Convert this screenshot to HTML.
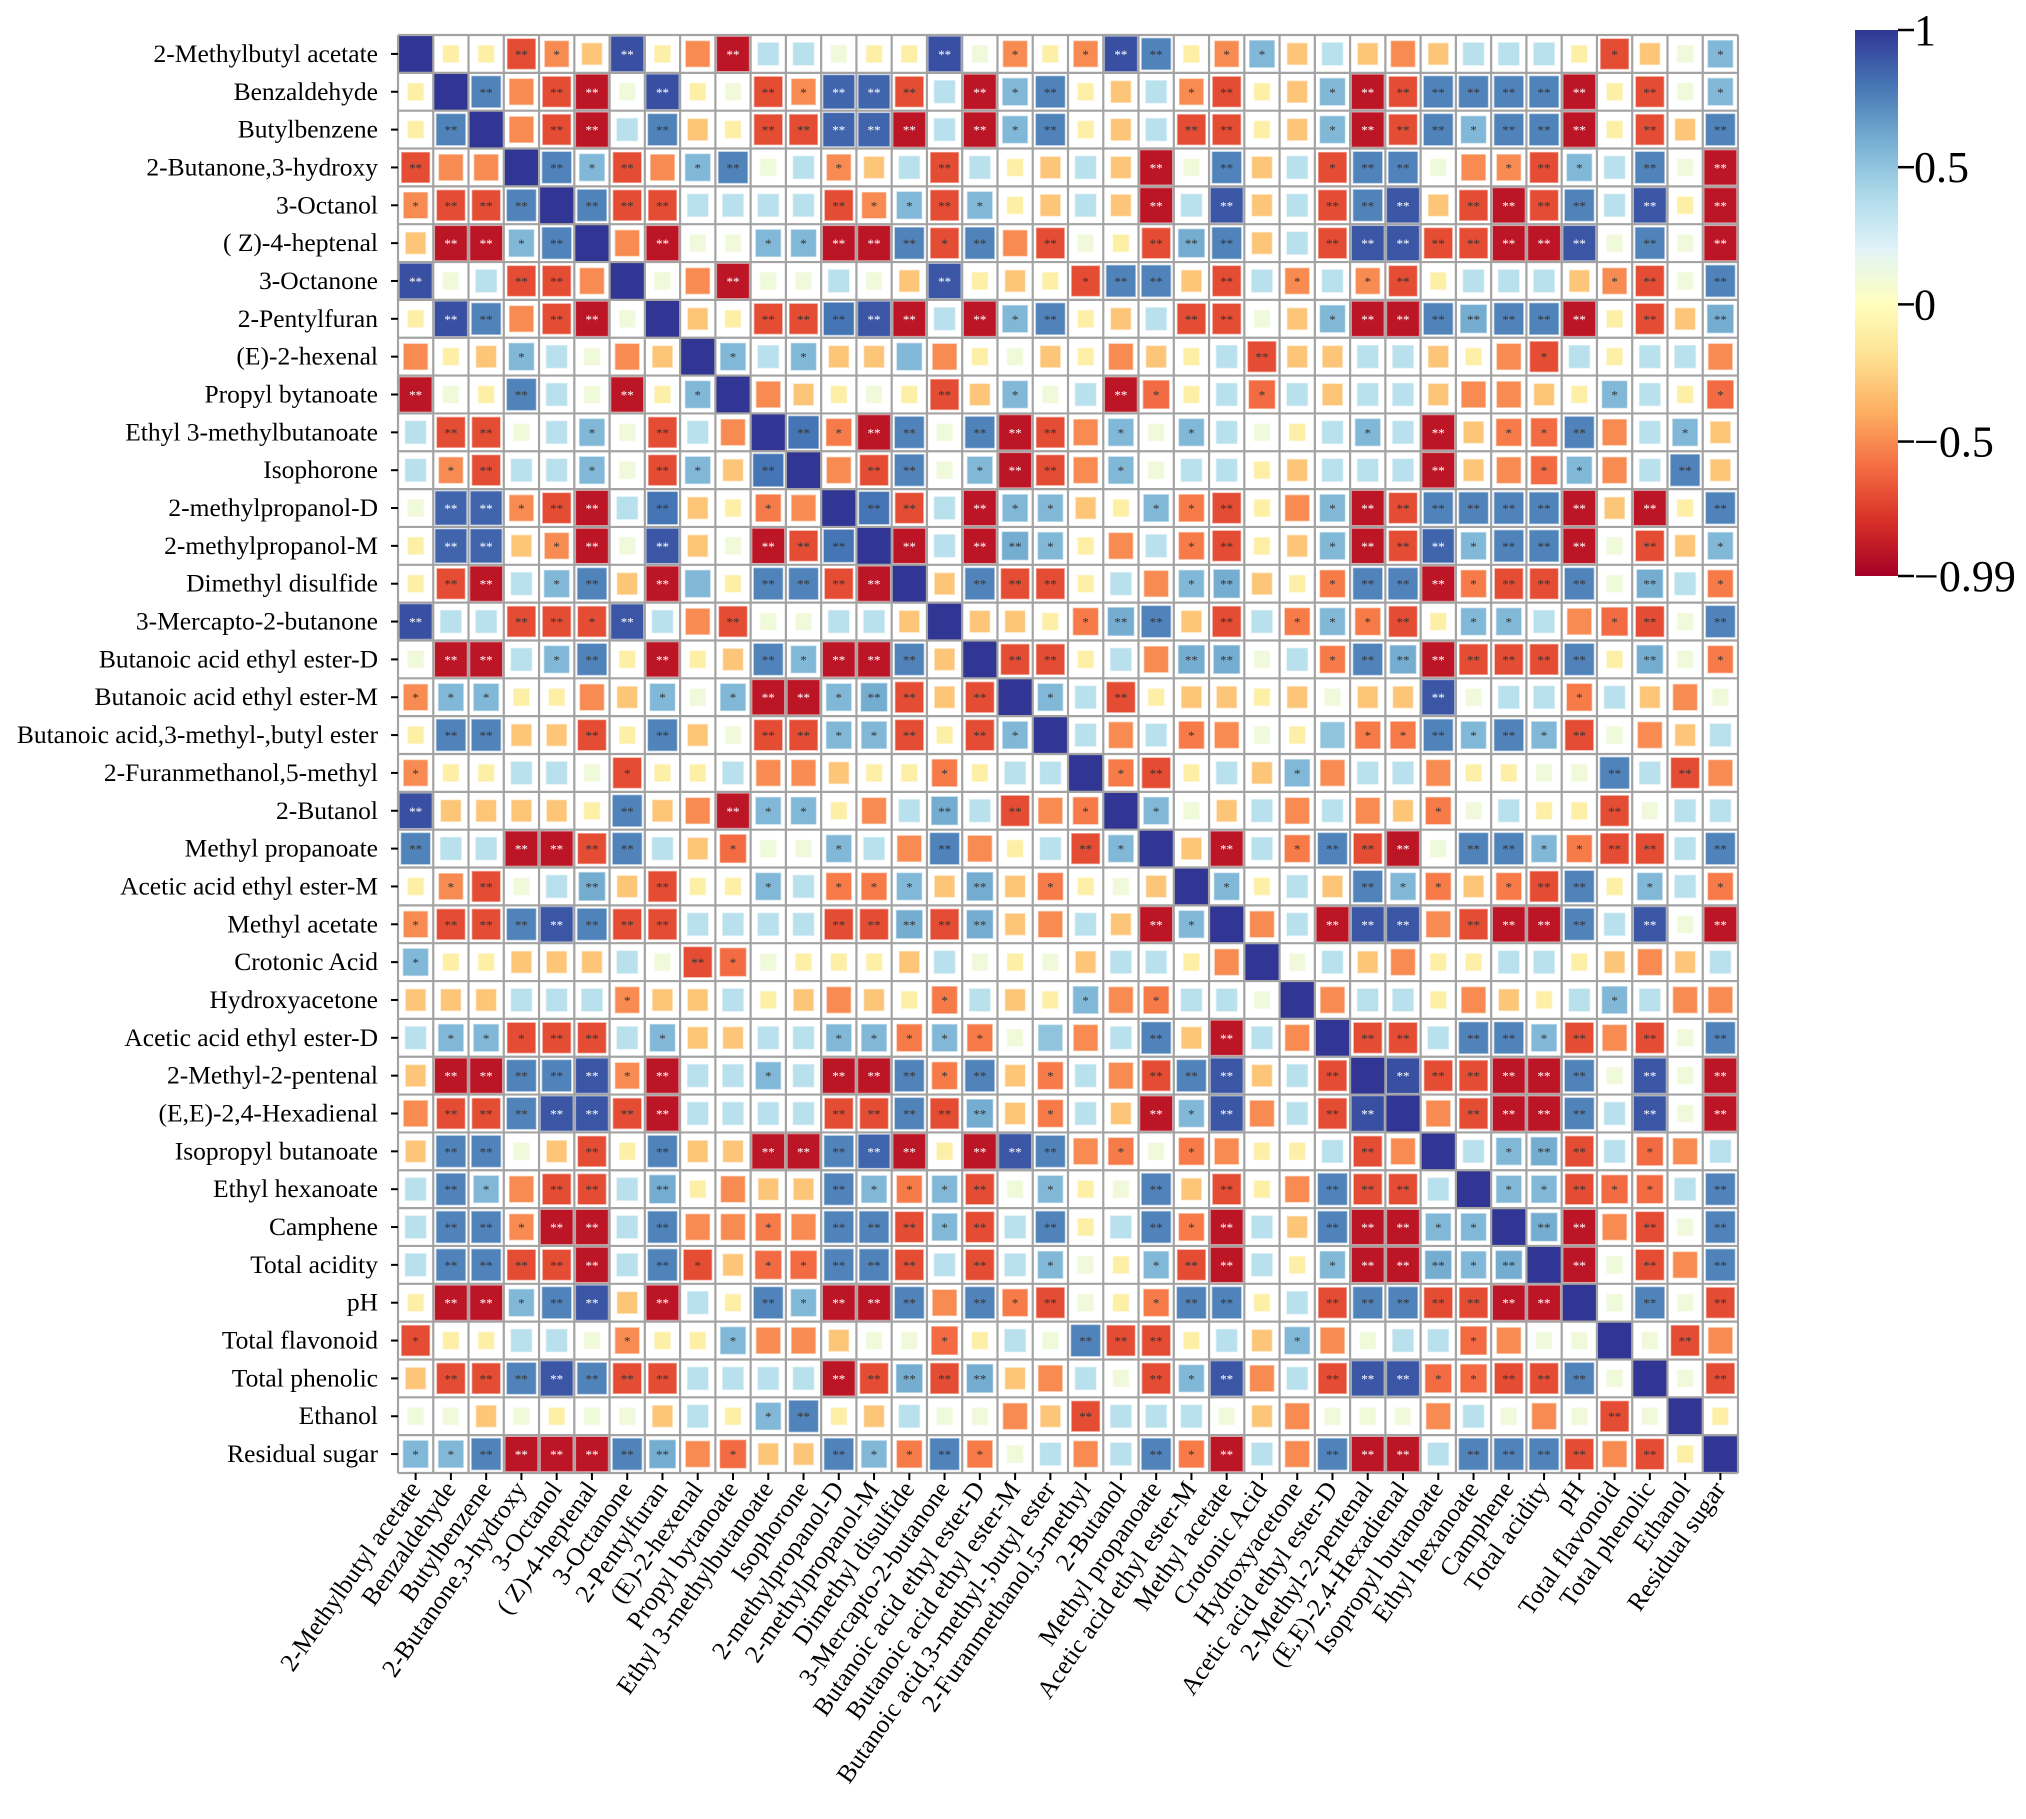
<!DOCTYPE html>
<html><head><meta charset="utf-8">
<style>
html,body{margin:0;padding:0;background:#fff;}
svg{display:block;}
text{font-family:"Liberation Serif","DejaVu Serif",serif;}
</style></head>
<body>
<svg id="chart" width="2026" height="1819" viewBox="0 0 2026 1819" xmlns="http://www.w3.org/2000/svg">
<defs>
<linearGradient id="cbgrad" x1="0" y1="1" x2="0" y2="0">
<stop offset="0" stop-color="#a50026"/><stop offset="0.1" stop-color="#d73027"/><stop offset="0.2" stop-color="#f46d43"/><stop offset="0.3" stop-color="#fdae61"/><stop offset="0.4" stop-color="#fee090"/><stop offset="0.5" stop-color="#ffffbf"/><stop offset="0.6" stop-color="#e0f3f8"/><stop offset="0.7" stop-color="#abd9e9"/><stop offset="0.8" stop-color="#74add1"/><stop offset="0.9" stop-color="#4575b4"/><stop offset="1" stop-color="#313695"/>
</linearGradient>
</defs>
<g id="cells"></g>
<g id="grid"></g>
<g id="ylabels"></g>
<g id="xlabels"></g>
<g id="colorbar">
<rect x="1855" y="30" width="43" height="546" fill="url(#cbgrad)"/>
</g>
</svg>
<script>
const variables = ["2-Methylbutyl acetate","Benzaldehyde","Butylbenzene","2-Butanone,3-hydroxy","3-Octanol","( Z)-4-heptenal","3-Octanone","2-Pentylfuran","(E)-2-hexenal","Propyl bytanoate","Ethyl 3-methylbutanoate","Isophorone","2-methylpropanol-D","2-methylpropanol-M","Dimethyl disulfide","3-Mercapto-2-butanone","Butanoic acid ethyl ester-D","Butanoic acid ethyl ester-M","Butanoic acid,3-methyl-,butyl ester","2-Furanmethanol,5-methyl","2-Butanol","Methyl propanoate","Acetic acid ethyl ester-M","Methyl acetate","Crotonic Acid","Hydroxyacetone","Acetic acid ethyl ester-D","2-Methyl-2-pentenal","(E,E)-2,4-Hexadienal","Isopropyl butanoate","Ethyl hexanoate","Camphene","Total acidity","pH","Total flavonoid","Total phenolic","Ethanol","Residual sugar"];
// upper triangle correlation values: row i holds columns i+1..37
const corrUpper = [
[-.1,-.1,-.7,-.5,-.3,.92,-.1,-.5,-.9,.35,.35,.1,-.1,-.1,.92,.1,-.5,-.1,-.5,.92,.75,-.1,-.5,.55,-.3,.35,-.3,-.5,-.3,.35,.35,.35,-.1,-.7,-.3,.1,.55],
[.75,-.5,-.7,-.9,.1,.92,-.1,.1,-.7,-.5,.85,.85,-.7,.35,-.9,.55,.75,-.1,-.3,.35,-.5,-.7,-.1,-.3,.55,-.9,-.7,.75,.75,.75,.75,-.9,-.1,-.7,.1,.55],
[-.5,-.7,-.9,.35,.75,-.3,-.1,-.7,-.7,.85,.85,-.9,.35,-.9,.55,.75,-.1,-.3,.35,-.7,-.7,-.1,-.3,.55,-.9,-.7,.75,.55,.75,.75,-.9,-.1,-.7,-.3,.75],
[.75,.55,-.7,-.5,.55,.75,.1,.35,-.5,-.3,.35,-.7,.35,-.1,-.3,.35,-.3,-.9,.1,.75,-.3,.35,-.7,.75,.75,.1,-.5,-.5,-.7,.55,.35,.75,.1,-.9],
[.75,-.7,-.7,.35,.35,.35,.35,-.7,-.5,.55,-.7,.55,-.1,-.3,.35,-.3,-.9,.35,.9,-.3,.35,-.7,.75,.9,-.3,-.7,-.9,-.7,.75,.35,.9,-.1,-.9],
[-.5,-.9,.1,.1,.55,.55,-.9,-.9,.75,-.7,.75,-.5,-.7,.1,-.1,-.7,.6,.75,-.3,.35,-.7,.9,.9,-.7,-.7,-.9,-.9,.9,.1,.75,.1,-.9],
[.1,-.5,-.9,.1,.1,.35,.1,-.3,.9,-.1,-.3,-.1,-.7,.75,.75,-.3,-.7,.35,-.5,.35,-.5,-.7,-.1,.35,.35,.35,-.3,-.5,-.7,.1,.75],
[-.3,-.1,-.7,-.7,.8,.9,-.9,.35,-.9,.55,.75,-.1,-.3,.35,-.7,-.7,.1,-.3,.55,-.9,-.9,.75,.6,.75,.75,-.9,-.1,-.7,-.3,.6],
[.55,.35,.55,-.3,-.3,.55,-.5,-.1,.1,-.3,-.1,-.5,-.3,-.1,.35,-.7,-.3,-.3,.35,.35,-.3,-.1,-.5,-.7,.35,-.1,.35,.35,-.5],
[-.5,-.3,-.1,.1,-.1,-.7,-.3,.55,.1,.35,-.9,-.6,-.1,.35,-.6,.35,-.3,.35,.35,-.3,-.5,-.5,-.3,-.1,.55,.35,-.1,-.6],
[.8,-.55,-.9,.75,.1,.75,-.9,-.7,-.5,.55,.1,.55,.35,.1,-.1,.35,.55,.35,-.9,-.3,-.55,-.6,.75,-.5,.35,.55,-.3],
[-.5,-.7,.75,.1,.55,-.9,-.7,-.5,.55,.1,.35,.35,-.1,-.3,.35,.35,.35,-.9,-.3,-.5,-.6,.55,-.5,.35,.75,-.3],
[.8,-.7,.35,-.9,.55,.55,-.3,-.1,.55,-.55,-.7,-.1,-.5,.55,-.9,-.7,.75,.75,.75,.75,-.9,-.3,-.9,-.1,.75],
[-.9,.35,-.9,.6,.55,-.1,-.5,.35,-.55,-.7,-.1,-.3,.55,-.9,-.7,.85,.55,.75,.75,-.9,.1,-.7,-.3,.55],
[-.3,.75,-.7,-.7,-.1,.35,-.5,.55,.6,-.3,-.1,-.55,.75,.75,-.9,-.55,-.7,-.7,.75,.1,.6,.35,-.55],
[-.3,-.3,-.1,-.55,.6,.75,-.3,-.7,.35,-.55,.55,-.55,-.7,-.1,.55,.55,.35,-.5,-.6,-.7,.1,.75],
[-.7,-.7,-.1,.35,-.5,.6,.6,.1,.35,-.55,.75,.6,-.9,-.7,-.7,-.7,.75,-.1,.6,.1,-.55],
[.55,.35,-.7,-.1,-.3,-.3,-.1,-.3,.1,-.3,-.3,.9,.1,.35,.35,-.55,.35,-.3,-.5,.1],
[.35,-.5,.35,-.55,-.5,.1,-.1,.5,-.55,-.55,.75,.55,.75,.55,-.7,.1,-.5,-.3,.35],
[-.55,-.7,-.1,.35,-.3,.55,-.5,.35,.35,-.5,-.1,-.1,.1,.1,.75,.35,-.7,-.5],
[.55,.1,-.3,.35,-.5,.35,-.5,-.3,-.55,.1,.35,-.1,-.1,-.7,.1,.35,.35],
[-.3,-.9,.35,-.55,.75,-.7,-.9,.1,.75,.75,.55,-.55,-.7,-.7,.35,.75],
[.55,-.1,.35,-.3,.75,.55,-.55,-.3,-.55,-.7,.75,-.1,.55,.35,-.55],
[-.5,.35,-.9,.9,.9,-.5,-.7,-.9,-.9,.75,.35,.9,.1,-.9],
[.1,.35,-.3,-.5,-.1,-.1,.35,.35,-.1,-.3,-.5,-.3,.35],
[-.5,.35,.35,-.1,-.5,-.3,-.1,.35,.55,.35,-.5,-.5],
[-.7,-.7,.35,.75,.75,.55,-.7,-.5,-.7,.1,.75],
[.92,-.7,-.7,-.9,-.9,.75,.1,.9,.1,-.9],
[-.5,-.7,-.9,-.9,.75,.35,.9,.1,-.9],
[.35,.55,.6,-.7,.35,-.6,-.5,.35],
[.55,.55,-.7,-.6,-.6,.35,.75],
[.6,-.9,-.5,-.7,.1,.75],
[-.9,.1,-.7,-.5,.75],
[.1,.75,.1,-.7],
[.1,-.7,-.5],
[.1,-.7],
[-.1]
];
// significance marks (0 none, 1 '*', 2 '**'), same layout as corrUpper
const sigUpper = [
"00210 20020 00002 01012 20110 00000 00010 01",
"20220 20021 22202 12000 12001 22222 22020 1",
"02202 00222 22021 20002 20012 22122 20202",
"21201 20010 02000 00202 00122 00121 0202",
"22200 00211 21000 02020 02220 22220 202",
"02001 12221 20200 22200 22222 22202 02",
"00200 00020 00122 02010 12000 00120 2",
"00222 22021 20002 20012 22222 20202",
"10100 00000 00000 20000 00010 0000",
"00000 20100 21001 00000 00001 001",
"21220 22201 01000 01020 11200 10",
"02201 22010 00000 00200 11002 0",
"22021 10011 20012 22222 20202",
"20221 00012 00122 21222 0201",
"02220 00120 01222 12220 201",
"00012 20201 11201 10012 02",
"22000 22001 22222 22020 1",
"10200 00000 02000 10000",
"00010 00011 21212 0000",
"12000 10000 00002 020",
"10000 00010 00020 00",
"02012 22022 11220 2",
"10002 11012 20101",
"00222 02222 0202",
"00000 00000 000",
"00000 00010 00",
"22022 12020 2",
"22222 20202",
"02222 0202",
"01220 100",
"11211 02",
"220202",
"20202",
"0202",
"020",
"02",
"0"
];
const colorbarTicks = [1, 0.5, 0, -0.5, -0.99];
const colorbarTickLabels = ["1", "0.5", "0", "\u22120.5", "\u22120.99"];

const NS = "http://www.w3.org/2000/svg";
const N = variables.length;
const X0 = 398, X1 = 1738, Y0 = 35, Y1 = 1473;
const cw = (X1 - X0) / N, ch = (Y1 - Y0) / N;
const vmin = -0.99, vmax = 1;
const CB_TOP = 30, CB_H = 546;
const stops = ["#a50026","#d73027","#f46d43","#fdae61","#fee090","#ffffbf","#e0f3f8","#abd9e9","#74add1","#4575b4","#313695"];
function hex(c){return [parseInt(c.slice(1,3),16),parseInt(c.slice(3,5),16),parseInt(c.slice(5,7),16)];}
function colorOf(v){
  let t = (v - vmin) / (vmax - vmin); t = Math.max(0, Math.min(1, t));
  const p = t * (stops.length - 1); const i = Math.min(stops.length - 2, Math.floor(p)); const f = p - i;
  const a = hex(stops[i]), b = hex(stops[i+1]);
  return "rgb(" + a.map((x,k)=>Math.round(x + (b[k]-x)*f)).join(",") + ")";
}
function xScale(j){return X0 + j * cw;}
function yScale(i){return Y0 + i * ch;}
function cbScale(v){return CB_TOP + (vmax - v) / (vmax - vmin) * CB_H;}

const M = [], S = [];
for (let i = 0; i < N; i++){ M.push(new Array(N).fill(1)); S.push(new Array(N).fill(0)); }
for (let i = 0; i < N - 1; i++){
  const sig = sigUpper[i].replace(/\s/g, "");
  for (let k = 0; k < corrUpper[i].length; k++){
    const j = i + 1 + k;
    M[i][j] = M[j][i] = corrUpper[i][k];
    const s = parseInt(sig[k] || "0", 10);
    S[i][j] = S[j][i] = s;
  }
}

const gCells = document.getElementById("cells");
for (let i = 0; i < N; i++){
  for (let j = 0; j < N; j++){
    const v = M[i][j];
    const frac = i === j ? 1 : Math.min(0.95, 0.42 + 0.58 * Math.abs(v));
    const w = cw * frac, h = ch * frac;
    const cx = xScale(j) + cw/2, cy = yScale(i) + ch/2;
    const r = document.createElementNS(NS, "rect");
    r.setAttribute("x", cx - w/2); r.setAttribute("y", cy - h/2);
    r.setAttribute("width", w); r.setAttribute("height", h);
    r.setAttribute("fill", colorOf(v));
    if (i !== j){ r.setAttribute("stroke", "rgba(255,255,255,0.55)"); r.setAttribute("stroke-width", "1.5"); }
    
    
    gCells.appendChild(r);
    if (i !== j && S[i][j] > 0){
      const t = document.createElementNS(NS, "text");
      t.setAttribute("x", cx); t.setAttribute("y", cy + 5);
      t.setAttribute("text-anchor", "middle");
      t.setAttribute("font-size", "13");
      t.setAttribute("font-family", "Liberation Sans, sans-serif");
      t.setAttribute("fill", Math.abs(v) > 0.8 ? "#ffffff" : "#333333");
      t.textContent = S[i][j] === 2 ? "**" : "*";
      
      
      gCells.appendChild(t);
    }
  }
}

const gGrid = document.getElementById("grid");
for (let k = 0; k <= N; k++){
  const lv = document.createElementNS(NS, "line");
  lv.setAttribute("x1", xScale(k)); lv.setAttribute("x2", xScale(k));
  lv.setAttribute("y1", Y0); lv.setAttribute("y2", Y1);
  lv.setAttribute("stroke", "#a3a3a3"); lv.setAttribute("stroke-width", "2.2");
  
  
  gGrid.appendChild(lv);
  const lh = document.createElementNS(NS, "line");
  lh.setAttribute("y1", yScale(k)); lh.setAttribute("y2", yScale(k));
  lh.setAttribute("x1", X0); lh.setAttribute("x2", X1);
  lh.setAttribute("stroke", "#a3a3a3"); lh.setAttribute("stroke-width", "2.2");
  
  
  gGrid.appendChild(lh);
}

const gY = document.getElementById("ylabels");
const gX = document.getElementById("xlabels");
for (let i = 0; i < N; i++){
  const cy = yScale(i) + ch/2;
  const tk = document.createElementNS(NS, "line");
  tk.setAttribute("x1", X0 - 7); tk.setAttribute("x2", X0);
  tk.setAttribute("y1", cy); tk.setAttribute("y2", cy);
  tk.setAttribute("stroke", "#000"); tk.setAttribute("stroke-width", "2");
  
  
  gY.appendChild(tk);
  const t = document.createElementNS(NS, "text");
  t.setAttribute("x", X0 - 20); t.setAttribute("y", cy + 8);
  t.setAttribute("text-anchor", "end"); t.setAttribute("font-size", "25.5");
  t.textContent = variables[i];
  
  
  gY.appendChild(t);

  const cx = xScale(i) + cw/2;
  const tx = document.createElementNS(NS, "line");
  tx.setAttribute("x1", cx); tx.setAttribute("x2", cx);
  tx.setAttribute("y1", Y1); tx.setAttribute("y2", Y1 + 7);
  tx.setAttribute("stroke", "#000"); tx.setAttribute("stroke-width", "2");
  
  
  gX.appendChild(tx);
  const xt = document.createElementNS(NS, "text");
  const lx = cx + 6, ly = Y1 + 16;
  xt.setAttribute("x", lx); xt.setAttribute("y", ly);
  xt.setAttribute("text-anchor", "end"); xt.setAttribute("font-size", "25.5");
  xt.setAttribute("transform", "rotate(-55 " + lx + " " + ly + ")");
  xt.textContent = variables[i];
  
  
  gX.appendChild(xt);
}

const gCb = document.getElementById("colorbar");
for (let k = 0; k < colorbarTicks.length; k++){
  const y = cbScale(colorbarTicks[k]);
  const l = document.createElementNS(NS, "line");
  l.setAttribute("x1", 1898); l.setAttribute("x2", 1914);
  l.setAttribute("y1", y); l.setAttribute("y2", y);
  l.setAttribute("stroke", "#000"); l.setAttribute("stroke-width", "2.5");
  
  
  gCb.appendChild(l);
  const t = document.createElementNS(NS, "text");
  t.setAttribute("x", 1914); t.setAttribute("y", y + 15);
  t.setAttribute("font-size", "44");
  t.textContent = colorbarTickLabels[k];
  
  
  gCb.appendChild(t);
}
</script>
</body></html>
